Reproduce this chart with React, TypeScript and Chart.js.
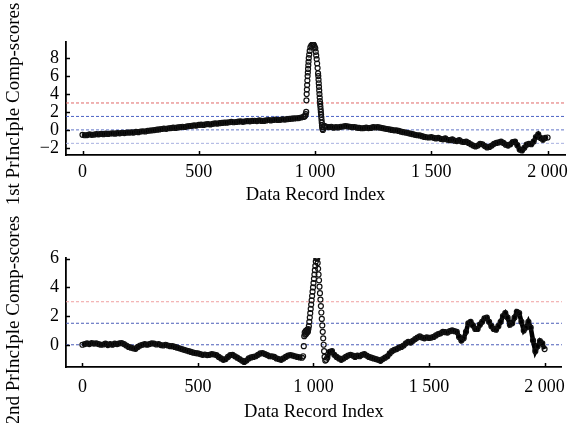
import React, { useEffect, useRef } from 'react';
import { Chart, registerables } from 'chart.js';

Chart.register(...registerables);

// ---------- data ----------
const STEP = 10;
const X_TICKS = [0, 500, 1000, 1500, 2000];
const Y1_TICKS = [-2, 0, 2, 4, 6, 8];
const Y2_TICKS = [0, 2, 4, 6];
const REF1 = [3, 1.5, 0, -1.5];
const REF2 = [3, 1.5, 0];

// 1st principal component: index 0..950 every 10
const pc1Early = [
  -0.55, -0.6, -0.58, -0.5, -0.55, -0.52, -0.48, -0.5, -0.45, -0.48,
  -0.42, -0.45, -0.4, -0.38, -0.42, -0.35, -0.38, -0.32, -0.35, -0.3,
  -0.3, -0.28, -0.3, -0.22, -0.25, -0.18, -0.15, -0.18, -0.1, -0.08,
  -0.05, -0.02, 0.02, 0.05, 0.1, 0.15, 0.12, 0.18, 0.2, 0.25,
  0.22, 0.28, 0.3, 0.35, 0.32, 0.4, 0.42, 0.45, 0.5, 0.48,
  0.55, 0.58, 0.55, 0.62, 0.65, 0.6, 0.68, 0.72, 0.7, 0.75,
  0.78, 0.82, 0.8, 0.85, 0.9, 0.85, 0.88, 0.92, 0.95, 0.9,
  0.95, 0.98, 0.95, 1.0, 1.02, 0.98, 1.05, 1.0, 1.0, 1.05,
  1.1, 1.05, 1.1, 1.15, 1.1, 1.12, 1.18, 1.15, 1.2, 1.22,
  1.25, 1.28, 1.3, 1.32, 1.38, 1.45,
];
const pc1SpikeIdx = [
  955, 958, 960, 962, 963, 964, 965, 966, 967, 968, 969, 970, 971, 972, 973,
  975, 977, 980, 984, 988, 992, 995, 998, 1001, 1003, 1005, 1007, 1009, 1011,
  1013, 1014, 1015, 1016, 1017, 1018, 1019, 1020, 1021, 1022, 1023, 1024,
  1025, 1026, 1027, 1028, 1029, 1030, 1031, 1032, 1034, 1037, 1040,
];
const pc1SpikeVal = [
  1.5, 1.6, 1.75, 2.0, 3.3, 4.0, 4.5, 5.0, 5.5, 6.0, 6.4, 6.8, 7.2, 7.6, 8.0,
  8.4, 8.8, 9.2, 9.4, 9.5, 9.55, 9.45, 9.3, 9.1, 8.7, 8.3, 7.9, 7.4, 6.9,
  6.3, 6.0, 5.6, 5.2, 4.8, 4.4, 4.0, 3.6, 3.2, 2.9, 2.6, 2.3,
  2.0, 1.7, 1.4, 1.1, 0.8, 0.5, 0.3, 0.1, 0.0, 0.3, 0.45,
];
// index 1050..2000 every 10
const pc1Late = [
  0.35, 0.3, 0.35, 0.25, 0.3, 0.28, 0.35, 0.38, 0.42, 0.4,
  0.35, 0.3, 0.32, 0.25, 0.22, 0.18, 0.2, 0.25, 0.2, 0.22,
  0.3, 0.28, 0.3, 0.25, 0.2, 0.15, 0.1, 0.05, 0.0, -0.05,
  -0.05, -0.12, -0.2, -0.25, -0.3, -0.35, -0.42, -0.48, -0.55, -0.6,
  -0.62, -0.7, -0.78, -0.82, -0.85, -0.8, -0.88, -0.95, -0.9, -1.0,
  -1.05, -0.95, -1.1, -1.15, -1.05, -1.2, -1.25, -1.15, -1.3, -1.35,
  -1.3, -1.45, -1.6, -1.75, -1.85, -1.75, -1.55, -1.6, -1.8, -1.95,
  -1.9, -1.75, -1.55, -1.45, -1.4, -1.3, -1.45, -1.65, -1.75, -1.6,
  -1.35, -1.3, -1.7, -2.2, -2.3, -2.0, -1.65, -1.55, -1.6, -1.3,
  -0.8, -0.5, -0.9, -1.1, -0.9, -0.85,
];

// 2nd principal component: index 0..950 every 10
const pc2Early = [
  0.0, 0.05, 0.1, 0.05, 0.12, 0.08, 0.1, 0.05, 0.0, 0.02,
  0.08, -0.02, 0.05, 0.0, 0.08, 0.05, 0.1, 0.12, 0.05, -0.05,
  -0.15, -0.2, -0.25, -0.28, -0.15, -0.05, 0.0, 0.05, 0.0, 0.05,
  0.1, 0.08, 0.02, 0.05, -0.02, -0.05, 0.0, -0.05, -0.1, -0.1,
  -0.15, -0.2, -0.25, -0.3, -0.35, -0.4, -0.45, -0.5, -0.55, -0.58,
  -0.6, -0.65, -0.7, -0.68, -0.72, -0.7, -0.65, -0.68, -0.72, -0.85,
  -0.95, -1.05, -1.0, -0.85, -0.72, -0.7, -0.8, -0.9, -1.0, -1.1,
  -1.2, -1.1, -0.95, -0.88, -0.85, -0.8, -0.7, -0.6, -0.58, -0.65,
  -0.72, -0.8, -0.8, -0.85, -0.95, -1.0, -1.05, -0.95, -0.85, -0.75,
  -0.72, -0.75, -0.8, -0.85, -0.88, -0.9,
];
const pc2SpikeIdx = [
  955, 958, 960, 962, 964, 966, 968, 970, 972, 974, 976, 978, 980, 982, 984,
  986, 988, 990, 992, 994, 996, 998, 1000, 1002, 1004, 1006, 1008, 1010, 1012,
  1014, 1016, 1018, 1020, 1022, 1024, 1026, 1028, 1030, 1032, 1034, 1036,
  1038, 1040, 1042, 1044, 1046, 1048, 1051, 1055,
];
const pc2SpikeVal = [
  -0.8, -0.1, 0.6, 0.85, 0.7, 0.95, 0.75, 1.0, 0.85, 1.05, 0.9, 1.1, 1.3, 1.6, 1.9,
  2.2, 2.5, 2.8, 3.1, 3.4, 3.7, 4.0, 4.3, 4.6, 4.9, 5.2, 5.5, 5.8, 6.05,
  6.15, 6.0, 5.7, 5.3, 4.9, 4.5, 4.05, 3.6, 3.15, 2.7, 2.25, 1.8,
  1.35, 0.9, 0.45, 0.0, -0.45, -0.85, -1.1, -1.05,
];
// index 1060..2000 every 10
const pc2Late = [
  -0.9, -0.5, -0.45, -0.7, -0.85, -0.95, -1.05, -0.95, -0.85, -0.75,
  -0.7, -0.75, -0.85, -0.75, -0.8, -0.7, -0.65, -0.75, -0.85, -0.9,
  -0.95, -1.0, -1.05, -1.12, -1.0, -0.9, -0.8, -0.6, -0.45, -0.35,
  -0.3, -0.2, -0.15, -0.05, 0.1, 0.2, 0.15, 0.28, 0.4, 0.5,
  0.58, 0.5, 0.45, 0.52, 0.48, 0.5, 0.55, 0.65, 0.75, 0.8,
  0.9, 0.88, 0.85, 0.95, 1.0, 0.95, 0.9, 0.55, 0.3, 0.45,
  0.9, 1.5, 1.6, 1.35, 1.1, 1.1, 1.4, 1.6, 1.85, 1.9,
  1.6, 1.3, 1.1, 1.05, 1.3, 1.6, 2.0, 2.2, 1.9, 1.4,
  1.5, 1.9, 2.3, 2.2, 1.6, 1.0, 1.2, 1.6, 1.2, 0.3,
  -0.45, -0.1, 0.25, 0.1, -0.3,
];

// ---------- helpers ----------
const FONT = "'Liberation Serif', 'Times New Roman', 'DejaVu Serif', serif";
const X_MIN = -71;
const X_MAX = 2075;

type P = { x: number; y: number };
const seg = (start: number, vals: number[]): P[] => vals.map((y, i) => ({ x: start + i * STEP, y }));
const pairs = (idx: number[], vals: number[]): P[] => idx.map((x, i) => ({ x, y: vals[i] }));

const fmtX = (v: number) =>
  v >= 1000 ? `${Math.floor(v / 1000)} ${String(v % 1000).padStart(3, '0')}` : String(v);
const fmtY = (v: number) => (v < 0 ? '\u2212' + Math.abs(v) : String(v));

type PanelCfg = {
  height: number;
  padTop: number;
  xAxisH: number;
  yMin: number;
  yMax: number;
  yTicks: number[];
  refs: number[];
  refColors: string[];
  early: P[];
  spike: P[];
  late: P[];
  yTitle: string;
  yTitleCenter: number;
  xTitleY: number;
  xLabelPad: number;
};

function Panel({ cfg }: { cfg: PanelCfg }) {
  const ref = useRef<HTMLCanvasElement>(null);
  useEffect(() => {
    const decor = {
      id: 'decor',
      afterDraw(chart: any) {
        const { ctx, chartArea } = chart;
        const xs = chart.scales.x;
        const ys = chart.scales.y;
        ctx.save();
        ctx.strokeStyle = '#000';
        ctx.lineWidth = 1.5;
        ctx.beginPath();
        for (const t of X_TICKS) {
          const px = Math.round(xs.getPixelForValue(t)) + 0.5;
          ctx.moveTo(px, chartArea.bottom);
          ctx.lineTo(px, chartArea.bottom - 4);
        }
        for (const t of cfg.yTicks) {
          const py = Math.round(ys.getPixelForValue(t)) + 0.5;
          ctx.moveTo(chartArea.left, py);
          ctx.lineTo(chartArea.left + 4, py);
        }
        ctx.stroke();
        ctx.fillStyle = '#000';
        ctx.font = `18.5px ${FONT}`;
        ctx.textAlign = 'center';
        ctx.textBaseline = 'middle';
        ctx.fillText('Data Record Index', (chartArea.left + chartArea.right) / 2, cfg.xTitleY);
        ctx.translate(14, cfg.yTitleCenter);
        ctx.rotate(-Math.PI / 2);
        ctx.font = `19px ${FONT}`;
        ctx.fillText(cfg.yTitle, 0, 0);
        ctx.restore();
      },
    };

    const refSets = cfg.refs.map((v, i) => ({
      type: 'line' as const,
      data: [
        { x: X_MIN, y: v },
        { x: X_MAX, y: v },
      ],
      borderColor: cfg.refColors[i],
      borderWidth: 1,
      borderDash: [3, 2],
      pointRadius: 0,
      fill: false,
    }));

    const band = (pts: P[]) => ({
      type: 'line' as const,
      data: pts,
      borderColor: '#000',
      borderWidth: 4.6,
      pointRadius: 0,
      tension: 0,
      fill: false,
    });

    const chart = new Chart(ref.current!, {
      type: 'scatter',
      data: {
        datasets: [
          {
            type: 'scatter',
            data: [...cfg.early, ...cfg.spike, ...cfg.late],
            pointRadius: 2.5,
            pointBorderWidth: 1.2,
            pointBorderColor: '#111',
            pointBackgroundColor: 'rgba(255,255,255,0)',
          } as any,
          band(cfg.early),
          band(cfg.late),
          ...refSets,
        ],
      },
      options: {
        animation: false,
        responsive: false,
        events: [],
        layout: { padding: { top: cfg.padTop, right: 3, left: 0, bottom: 0 } },
        plugins: { legend: { display: false }, tooltip: { enabled: false } },
        scales: {
          x: {
            type: 'linear',
            min: X_MIN,
            max: X_MAX,
            afterBuildTicks: (s: any) => {
              s.ticks = X_TICKS.map((value) => ({ value }));
            },
            afterFit: (s: any) => {
              s.height = cfg.xAxisH;
            },
            ticks: {
              callback: (v: any) => fmtX(Number(v)),
              font: { family: FONT, size: 18 },
              color: '#000',
              padding: cfg.xLabelPad,
              maxRotation: 0,
              autoSkip: false,
            },
            grid: { display: false, drawTicks: false },
            border: { display: true, color: '#000', width: 1.8 },
          },
          y: {
            type: 'linear',
            min: cfg.yMin,
            max: cfg.yMax,
            afterBuildTicks: (s: any) => {
              s.ticks = cfg.yTicks.map((value) => ({ value }));
            },
            afterFit: (s: any) => {
              s.width = 66;
            },
            ticks: {
              callback: (v: any) => fmtY(Number(v)),
              font: { family: FONT, size: 18 },
              color: '#000',
              padding: 7,
              autoSkip: false,
            },
            grid: { display: false, drawTicks: false },
            border: { display: true, color: '#000', width: 1.8 },
          },
        },
      },
      plugins: [decor],
    } as any);
    return () => chart.destroy();
  }, [cfg]);
  return (
    <canvas
      ref={ref}
      width={574}
      height={cfg.height}
      style={{ display: 'block', width: 574, height: cfg.height }}
    />
  );
}

const TOP: PanelCfg = {
  height: 212,
  padTop: 42,
  xAxisH: 57,
  yMin: -2.8,
  yMax: 9.8,
  yTicks: Y1_TICKS,
  refs: REF1,
  refColors: ['#e06666', '#4a62c4', '#6276c8', '#a8b0e0'],
  early: seg(0, pc1Early),
  spike: pairs(pc1SpikeIdx, pc1SpikeVal),
  late: seg(1050, pc1Late),
  yTitle: '1st PrIncIple Comp-scores',
  yTitleCenter: 104,
  xTitleY: 195,
  xLabelPad: 6,
};

const BOTTOM: PanelCfg = {
  height: 211,
  padTop: 46,
  xAxisH: 56,
  yMin: -1.55,
  yMax: 6.05,
  yTicks: Y2_TICKS,
  refs: REF2,
  refColors: ['#f0a0a0', '#4a5cb8', '#4a5cb8'],
  early: seg(0, pc2Early),
  spike: pairs(pc2SpikeIdx, pc2SpikeVal),
  late: seg(1060, pc2Late),
  yTitle: '2nd PrIncIple Comp-scores',
  yTitleCenter: 108,
  xTitleY: 200,
  xLabelPad: 9,
};

export default function App() {
  return (
    <div
      style={{
        position: 'absolute',
        left: 0,
        top: 0,
        width: 574,
        height: 423,
        background: '#fff',
        overflow: 'hidden',
      }}
    >
      <Panel cfg={TOP} />
      <Panel cfg={BOTTOM} />
    </div>
  );
}
